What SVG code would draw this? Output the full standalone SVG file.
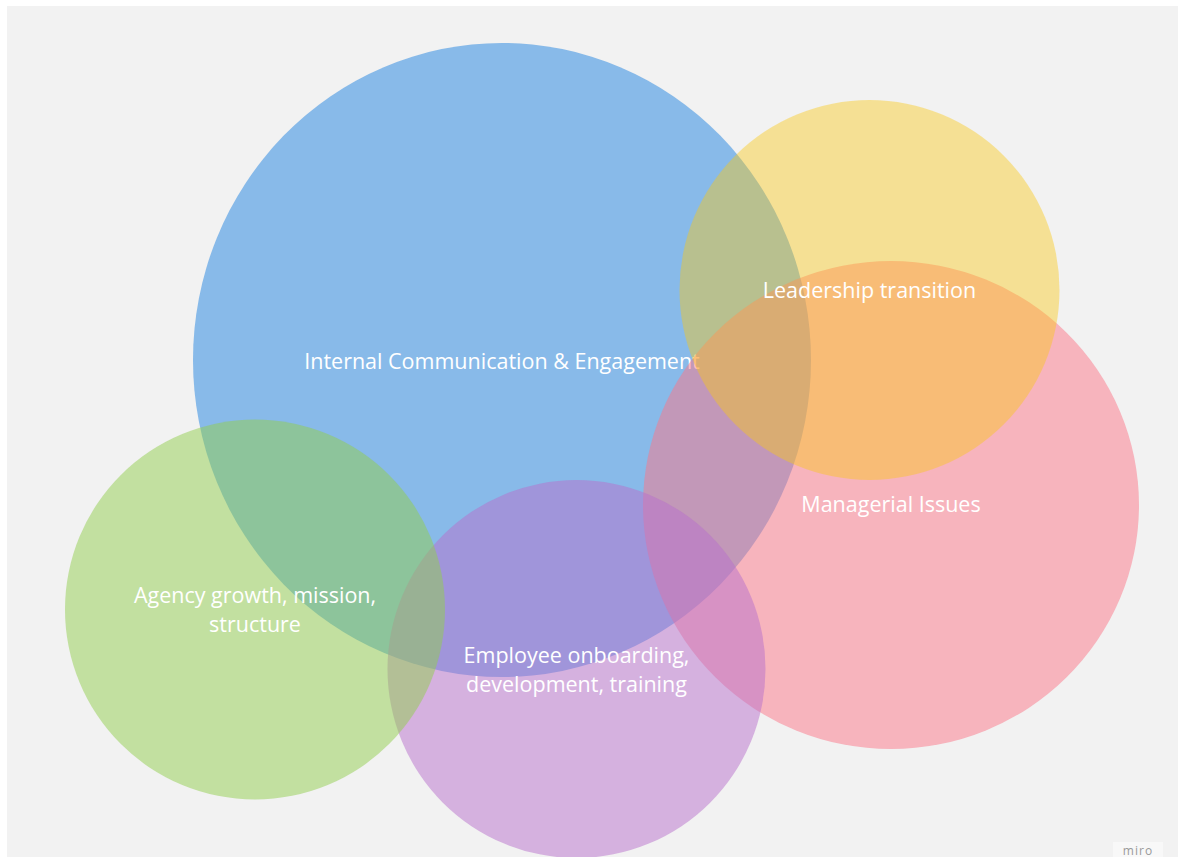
<svg xmlns="http://www.w3.org/2000/svg" width="1178" height="857" viewBox="0 0 1178 857">
<style>
.lbl{font-family:"Open Sans","Noto Sans","Liberation Sans",sans-serif;font-size:21.5px;fill:#ffffff;text-anchor:middle}
.wm{font-family:"Open Sans","Liberation Sans",sans-serif;font-size:12px;fill:#9a9a9a;text-anchor:middle;letter-spacing:1px}
</style>
<rect x="0" y="0" width="1178" height="857" fill="#ffffff"/>
<rect x="7" y="6" width="1171" height="851" fill="#f2f2f2"/>
<g id="node-internal-communication">
<ellipse cx="502" cy="360" rx="309" ry="317" fill="#1e82e0" fill-opacity="0.5"/>
<text class="lbl" x="502" y="369">Internal Communication &amp; Engagement</text>
</g>
<g id="node-managerial-issues">
<ellipse cx="891" cy="505" rx="248" ry="244" fill="#fc7688" fill-opacity="0.5"/>
<text class="lbl" x="891" y="512">Managerial Issues</text>
</g>
<g id="node-leadership-transition">
<circle cx="869.5" cy="290" r="190" fill="#fbc812" fill-opacity="0.42"/>
<text class="lbl" x="869.5" y="298">Leadership transition</text>
</g>
<g id="node-employee-onboarding">
<circle cx="576.5" cy="669" r="189" fill="#b870cc" fill-opacity="0.5"/>
<text class="lbl" x="576.5" y="663">Employee onboarding,</text>
<text class="lbl" x="576.5" y="692">development, training</text>
</g>
<g id="node-agency-growth">
<circle cx="255" cy="609.5" r="190" fill="#92ce4e" fill-opacity="0.5"/>
<text class="lbl" x="255" y="603">Agency growth, mission,</text>
<text class="lbl" x="255" y="632">structure</text>
</g>
<g id="connectors"></g>
<g id="watermark">
<rect x="1113" y="842" width="50" height="15" fill="#f8f8f8"/>
<text class="wm" x="1138" y="855">miro</text>
</g>
</svg>
